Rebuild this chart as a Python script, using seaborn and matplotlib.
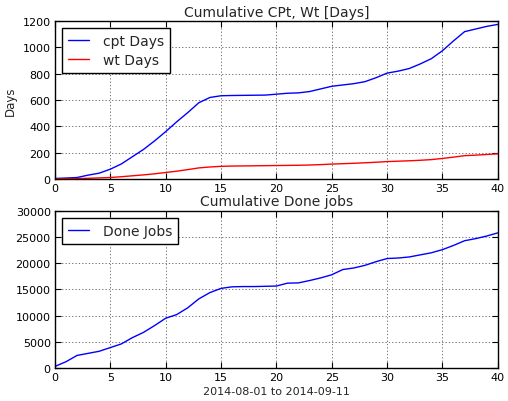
import matplotlib
matplotlib.use("Agg")
import matplotlib.pyplot as plt
import seaborn as sns
import numpy as np
import pandas as pd

days = list(range(41))
cpt_days = [5, 8, 12, 30, 45, 75, 115, 170, 225, 290, 360, 435, 505, 580, 620,
            633, 635, 636, 637, 638, 645, 652, 655, 665, 685, 705, 715, 725, 740,
            770, 805, 820, 840, 875, 915, 975, 1050, 1120, 1140, 1160, 1175]
wt_days = [2, 3, 4, 6, 9, 12, 18, 25, 32, 40, 50, 60, 72, 85, 92, 97, 99, 100,
           101, 102, 103, 104, 105, 107, 110, 114, 117, 120, 124, 128, 133, 136,
           139, 143, 148, 157, 167, 178, 182, 187, 192]
done_jobs = [300, 1200, 2400, 2800, 3200, 3900, 4600, 5800, 6800, 8100, 9500,
             10200, 11500, 13200, 14400, 15200, 15500, 15550, 15550, 15600, 15650,
             16200, 16250, 16700, 17200, 17800, 18800, 19100, 19600, 20300, 20900,
             21000, 21200, 21600, 22000, 22600, 23400, 24300, 24700, 25200, 25800]

top_title = "Cumulative CPt, Wt [Days]"
bottom_title = "Cumulative Done jobs"
xlabel_text = "2014-08-01 to 2014-09-11"

sns.set_style("white")
plt.rcParams['font.family'] = ['DejaVu Sans']
plt.rcParams.update({
    'xtick.direction': 'in', 'ytick.direction': 'in',
    'xtick.top': True, 'ytick.right': True,
    'xtick.major.size': 4, 'ytick.major.size': 4,
    'xtick.bottom': True, 'ytick.left': True,
    'axes.edgecolor': 'black', 'axes.linewidth': 1.0,
    'xtick.color': 'black', 'ytick.color': 'black',
    'font.size': 8,
})

fig = plt.figure(figsize=(5.08, 4.02), dpi=100)
ax1 = fig.add_axes([0.108, 0.552, 0.872, 0.393])
ax2 = fig.add_axes([0.108, 0.082, 0.872, 0.391])

df1 = pd.DataFrame({'day': days, 'cpt': cpt_days, 'wt': wt_days})
df2 = pd.DataFrame({'day': days, 'done': done_jobs})

sns.lineplot(data=df1, x='day', y='cpt', ax=ax1, color='blue', lw=1, label='cpt Days')
sns.lineplot(data=df1, x='day', y='wt', ax=ax1, color='red', lw=1, label='wt Days')
sns.lineplot(data=df2, x='day', y='done', ax=ax2, color='blue', lw=1, label='Done Jobs')

ax1.set_xlim(0, 40)
ax1.set_ylim(0, 1200)
ax1.set_xticks(range(0, 41, 5))
ax1.set_yticks(range(0, 1201, 200))
ax1.set_title(top_title, fontsize=10, pad=4)
ax1.set_ylabel('Days', fontsize=8.5, labelpad=4)
ax1.set_xlabel('')

ax2.set_xlim(0, 40)
ax2.set_ylim(0, 30000)
ax2.set_xticks(range(0, 41, 5))
ax2.set_yticks(range(0, 30001, 5000))
ax2.set_title(bottom_title, fontsize=10, pad=4)
ax2.set_ylabel('')
ax2.set_xlabel(xlabel_text, fontsize=8, labelpad=3)

for ax in (ax1, ax2):
    ax.grid(True, linestyle=(0, (1.5, 2.5)), color='0.35', linewidth=0.6)
    ax.tick_params(labelsize=8, direction='in', top=True, right=True, pad=3)
    for s in ax.spines.values():
        s.set_visible(True)
        s.set_color('black')
    leg = ax.legend(loc='upper left', fontsize=10, frameon=True, fancybox=False,
                    edgecolor='black', framealpha=1, borderaxespad=0.5,
                    handlelength=1.5, handletextpad=1.0, borderpad=0.45,
                    labelspacing=0.35)
    leg.get_frame().set_linewidth(1.0)

fig.savefig('out.png', dpi=100, facecolor='white')
